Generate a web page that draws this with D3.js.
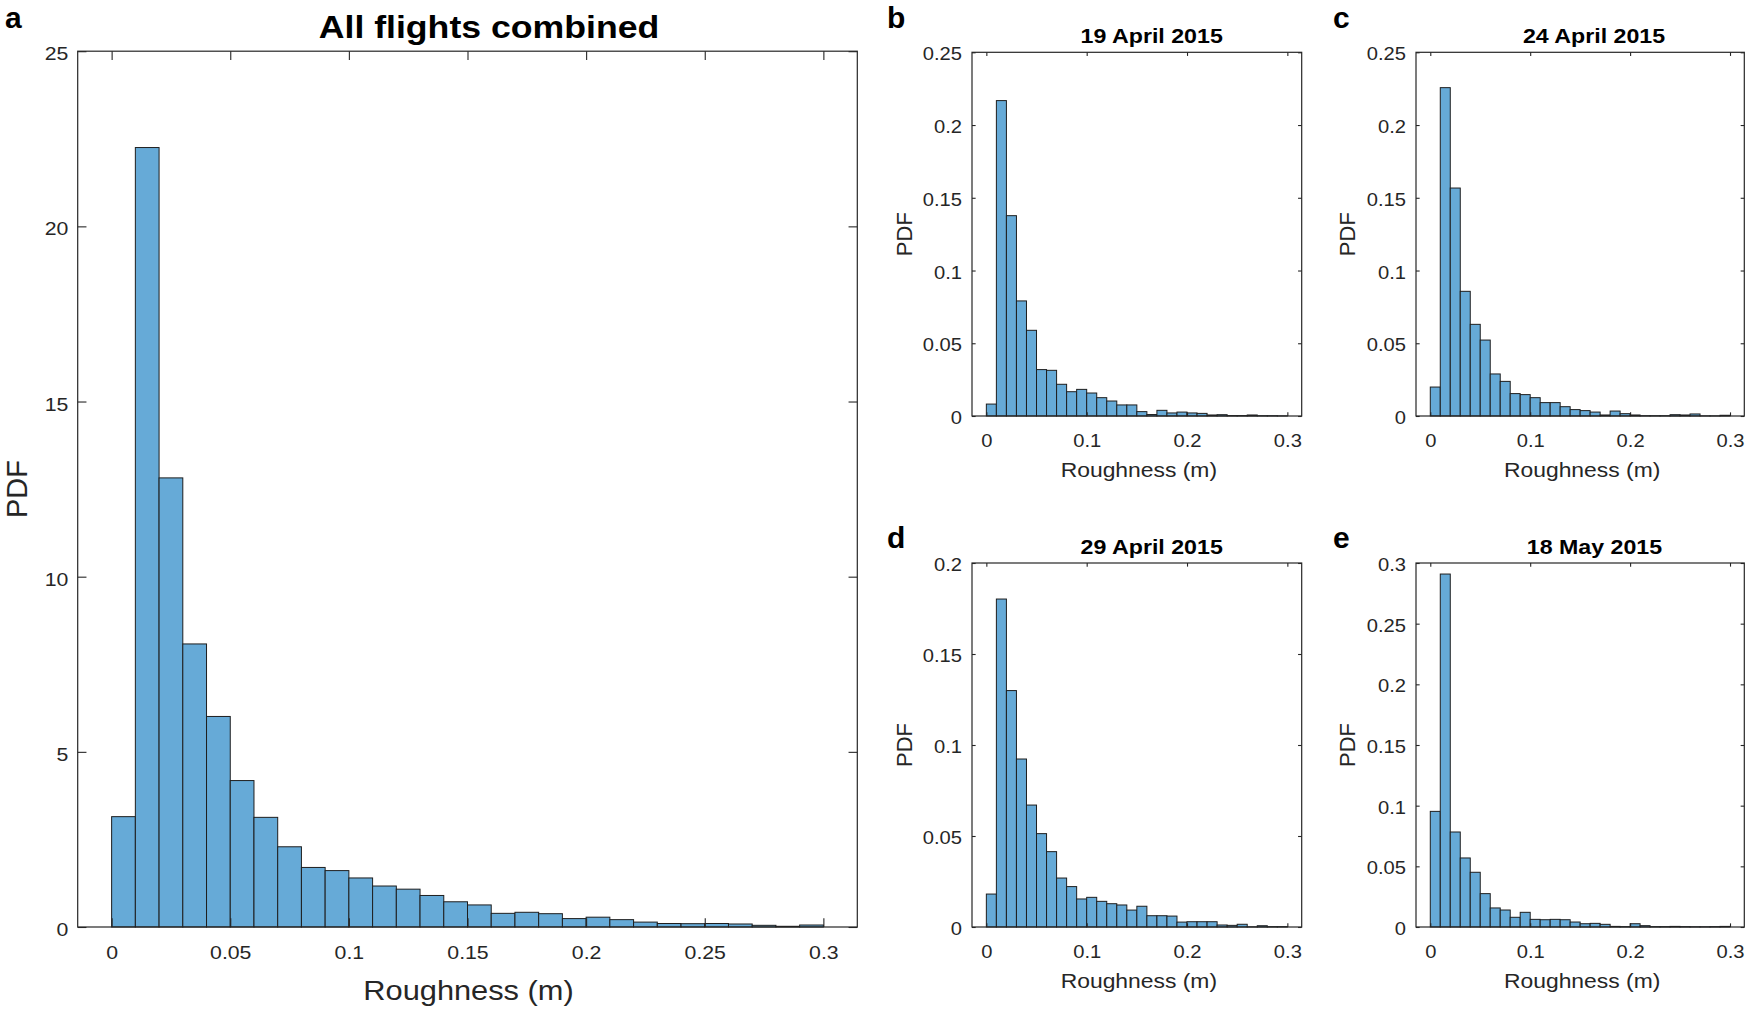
<!DOCTYPE html>
<html>
<head>
<meta charset="utf-8">
<script src="https://d3js.org/d3.v7.min.js"></script>
<style>
  body { margin: 0; background: #ffffff; }
  svg { font-family: "Liberation Sans", Arial, sans-serif; }
  .bar { fill: #66aad7; stroke: #1e1e1e; stroke-width: 1; }
  .frame { fill: none; stroke: #262626; stroke-width: 1.2; }
  .axis path { display: none; }
  .axis line { stroke: #262626; stroke-width: 1.1; }
  .axis text { fill: #262626; }
</style>
</head>
<body>
<svg id="fig" width="1750" height="1012"></svg>
<script>
// histogram bins, 0.01 m wide, from 0 to 0.3 m
var binStart = [0, 0.01, 0.02, 0.03, 0.04, 0.05, 0.06, 0.07, 0.08, 0.09,
                0.10, 0.11, 0.12, 0.13, 0.14, 0.15, 0.16, 0.17, 0.18, 0.19,
                0.20, 0.21, 0.22, 0.23, 0.24, 0.25, 0.26, 0.27, 0.28, 0.29];
var binWidth = 0.01;

// values
var pdfAll = [3.15, 22.25, 12.82, 8.08, 6.01, 4.18, 3.13, 2.29, 1.70, 1.61,
              1.40, 1.17, 1.08, 0.90, 0.72, 0.63, 0.39, 0.42, 0.38, 0.24,
              0.28, 0.21, 0.14, 0.10, 0.095, 0.10, 0.086, 0.048, 0.02, 0.057];
var pdf19Apr = [0.0082, 0.2168, 0.1377, 0.0791, 0.0589, 0.0319, 0.0314, 0.0218, 0.0167, 0.0183,
                0.0158, 0.0126, 0.0103, 0.0076, 0.0076, 0.0030, 0.0010, 0.0039, 0.0021, 0.0027,
                0.0021, 0.0018, 0.0007, 0.0009, 0.0003, 0.0003, 0.0007, 0.0002, 0.0002, 0.0001];
var pdf24Apr = [0.0199, 0.2257, 0.1567, 0.0857, 0.0630, 0.0522, 0.0289, 0.0238, 0.0154, 0.0147,
                0.0126, 0.0092, 0.0092, 0.0064, 0.0044, 0.0037, 0.0027, 0.0007, 0.0034, 0.0016,
                0.0007, 0.0002, 0.0002, 0.0002, 0.0009, 0.0007, 0.0014, 0.0001, 0.0001, 0.0005];
var pdf29Apr = [0.0181, 0.1802, 0.1299, 0.0923, 0.0670, 0.0513, 0.0414, 0.0269, 0.0222, 0.0154,
                0.0163, 0.0141, 0.0128, 0.0121, 0.0093, 0.0114, 0.0062, 0.0062, 0.0060, 0.0027,
                0.0029, 0.0029, 0.0029, 0.0011, 0.0009, 0.0015, 0.0001, 0.0007, 0.0002, 0.0002];
var pdf18May = [0.0953, 0.2909, 0.0783, 0.0569, 0.0451, 0.0275, 0.0157, 0.0140, 0.0080, 0.0121,
                0.0063, 0.0060, 0.0063, 0.0060, 0.0041, 0.0027, 0.0030, 0.0022, 0.0005, 0.0003,
                0.0027, 0.0011, 0.0003, 0.0003, 0.0005, 0.0003, 0.0002, 0.0002, 0.0003, 0.0005];

var xTicksAll = [0, 0.05, 0.1, 0.15, 0.2, 0.25, 0.3];
var xTicksDay = [0, 0.1, 0.2, 0.3];
var yTicksAll = [0, 5, 10, 15, 20, 25];
var yTicks025 = [0, 0.05, 0.1, 0.15, 0.2, 0.25];
var yTicks02 = [0, 0.05, 0.1, 0.15, 0.2];
var yTicks03 = [0, 0.05, 0.1, 0.15, 0.2, 0.25, 0.3];

var xLabel = "Roughness (m)";
var yLabel = "PDF";

var xDomain = [-0.0143, 0.3143];

var panels = [
  { letter: "a", title: "All flights combined", values: pdfAll, xTicks: xTicksAll, yTicks: yTicksAll,
    left: 77.7, right: 857.3, top: 51.2, bottom: 927, big: true,
    titleX: 489, titleY: 37.7, letterX: 5, letterY: 28.3, yLabX: 27.3 },
  { letter: "b", title: "19 April 2015", values: pdf19Apr, xTicks: xTicksDay, yTicks: yTicks025,
    left: 972, right: 1301.7, top: 52.3, bottom: 416, big: false,
    titleX: 1151.7, titleY: 43.3, letterX: 887, letterY: 28.3, yLabX: 911.7 },
  { letter: "c", title: "24 April 2015", values: pdf24Apr, xTicks: xTicksDay, yTicks: yTicks025,
    left: 1416, right: 1744.3, top: 52.3, bottom: 416, big: false,
    titleX: 1594, titleY: 43.3, letterX: 1333, letterY: 28.3, yLabX: 1355 },
  { letter: "d", title: "29 April 2015", values: pdf29Apr, xTicks: xTicksDay, yTicks: yTicks02,
    left: 972, right: 1301.7, top: 563, bottom: 927, big: false,
    titleX: 1151.7, titleY: 554, letterX: 887, letterY: 548, yLabX: 911.7 },
  { letter: "e", title: "18 May 2015", values: pdf18May, xTicks: xTicksDay, yTicks: yTicks03,
    left: 1416, right: 1744.3, top: 563, bottom: 927, big: false,
    titleX: 1594.5, titleY: 554, letterX: 1333, letterY: 548, yLabX: 1355 }
];

var svg = d3.select("#fig");

function stretchedText(parent, x, y, str, size, weight, sx, color) {
  return parent.append("text")
    .attr("transform", `translate(${x},${y}) scale(${sx},1)`)
    .attr("text-anchor", "middle")
    .style("font-size", size + "px")
    .style("font-weight", weight)
    .attr("fill", color)
    .text(str);
}

panels.forEach(function(p) {
  var w = p.right - p.left, h = p.bottom - p.top;
  var tickLen = 0.01 * Math.max(w, h);
  var tickFont = p.big ? 19 : 18;
  var tickSx = 1.12;

  var x = d3.scaleLinear().domain(xDomain).range([0, w]);
  var y = d3.scaleLinear().domain([0, p.yTicks[p.yTicks.length - 1]]).range([h, 0]);

  var g = svg.append("g").attr("transform", `translate(${p.left},${p.top})`);

  // bars
  g.selectAll("rect.bar")
    .data(p.values)
    .join("rect")
    .attr("class", "bar")
    .attr("x", (d, i) => x(binStart[i]))
    .attr("width", (d, i) => x(binStart[i] + binWidth) - x(binStart[i]))
    .attr("y", d => y(d))
    .attr("height", d => y(0) - y(d));

  // axes, ticks pointing inward on all four sides
  var gx = g.append("g").attr("class", "axis")
    .attr("transform", `translate(0,${h})`)
    .call(d3.axisBottom(x).tickValues(p.xTicks).tickSize(-tickLen).tickFormat(d => String(d)));
  gx.selectAll("text")
    .attr("y", null).attr("dy", null)
    .attr("transform", `translate(0,${p.big ? 32 : 30.5}) scale(${tickSx},1)`)
    .style("font-size", tickFont + "px");

  var gy = g.append("g").attr("class", "axis")
    .call(d3.axisLeft(y).tickValues(p.yTicks).tickSize(-tickLen).tickFormat(d => String(d)));
  gy.selectAll("text")
    .attr("x", null)
    .attr("dy", p.big ? "0.45em" : "0.42em")
    .attr("transform", `translate(${p.big ? -9.4 : -10},0) scale(${tickSx},1)`)
    .style("font-size", tickFont + "px");

  g.append("g").attr("class", "axis")
    .call(d3.axisTop(x).tickValues(p.xTicks).tickSize(-tickLen).tickFormat(""));
  g.append("g").attr("class", "axis")
    .attr("transform", `translate(${w},0)`)
    .call(d3.axisRight(y).tickValues(p.yTicks).tickSize(-tickLen).tickFormat(""));

  g.append("rect").attr("class", "frame")
    .attr("x", 0).attr("y", 0).attr("width", w).attr("height", h);

  // x label
  if (p.big) {
    stretchedText(svg, p.left + w / 2 + 1, p.bottom + 73, xLabel, 28.5, "normal", 1.08, "#262626");
  } else {
    stretchedText(svg, p.left + w / 2 + 2, p.bottom + 61, xLabel, 21, "normal", 1.09, "#262626");
  }

  // y label
  svg.append("text")
    .attr("transform", `translate(${p.yLabX},${p.top + h / 2}) rotate(-90)`)
    .attr("text-anchor", "middle")
    .style("font-size", (p.big ? 29 : 22) + "px")
    .attr("fill", "#262626")
    .text(yLabel);

  // title
  if (p.big) {
    stretchedText(svg, p.titleX, p.titleY, p.title, 31, "bold", 1.15, "#000");
  } else {
    stretchedText(svg, p.titleX, p.titleY, p.title, 20, "bold", 1.16, "#000");
  }

  // panel letter
  svg.append("text")
    .attr("x", p.letterX).attr("y", p.letterY)
    .style("font-size", "30px")
    .style("font-weight", "bold")
    .attr("fill", "#000")
    .text(p.letter);
});
</script>
</body>
</html>
